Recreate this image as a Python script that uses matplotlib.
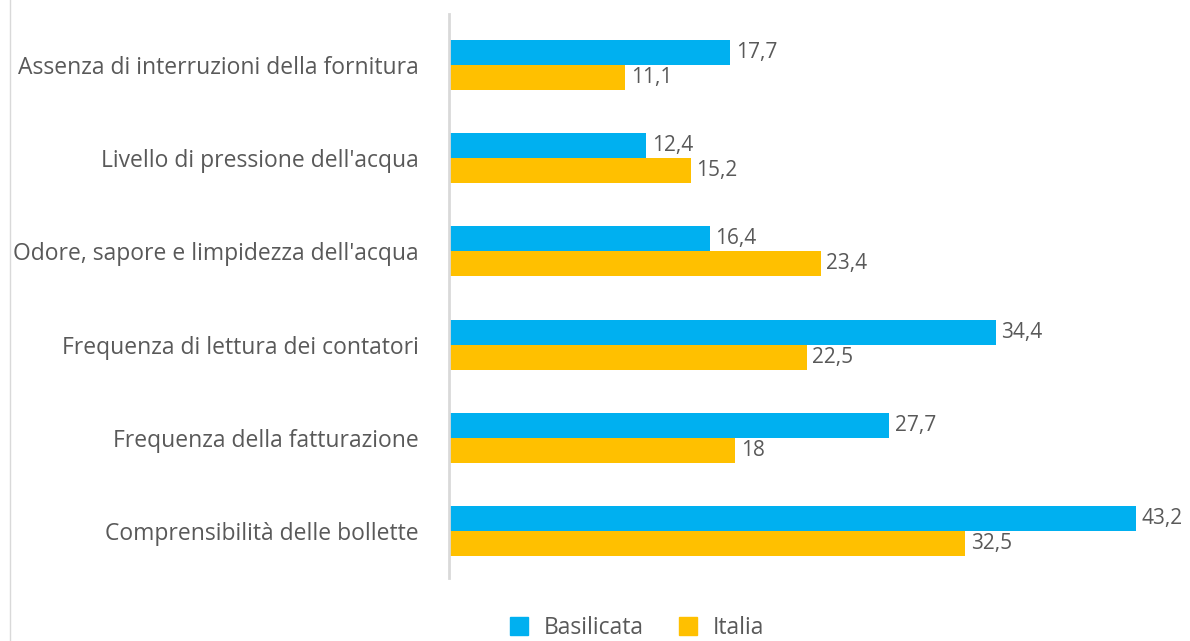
import matplotlib.pyplot as plt
import numpy as np
from matplotlib.lines import Line2D
from matplotlib.patches import Patch

categories = ['Assenza di interruzioni della fornitura',
              "Livello di pressione dell'acqua",
              "Odore, sapore e limpidezza dell'acqua",
              'Frequenza di lettura dei contatori',
              'Frequenza della fatturazione',
              'Comprensibilità delle bollette']
basilicata = [17.7, 12.4, 16.4, 34.4, 27.7, 43.2]
italia = [11.1, 15.2, 23.4, 22.5, 18.0, 32.5]
series_names = ['Basilicata', 'Italia']

blue = '#00B0F0'
orange = '#FFC000'
grey_text = '#595959'

plt.rcParams['font.family'] = ['Open Sans', 'DejaVu Sans']

fig = plt.figure(figsize=(11.9, 6.41), dpi=100)
ax = fig.add_axes([0.3773, 0.0983, 0.6143, 0.88])

y = np.arange(len(categories))
h = 0.268
b1 = ax.barh(y - h / 2, basilicata, height=h, color=blue)
b2 = ax.barh(y + h / 2, italia, height=h, color=orange)


def fmt(v):
    s = f'{v:.1f}'
    if s.endswith('.0'):
        s = s[:-2]
    return s.replace('.', ',')


for bars, vals in ((b1, basilicata), (b2, italia)):
    ax.bar_label(bars, labels=[fmt(v) for v in vals], padding=4,
                 fontsize=15, color=grey_text)

ax.set_xlim(0, 46)
ax.set_ylim(5.504, -0.547)
ax.set_yticks(y)
ax.set_yticklabels(categories, fontsize=16.5, color=grey_text)
ax.tick_params(axis='y', length=0, pad=22)
ax.set_xticks([])
for s in ['top', 'right', 'bottom']:
    ax.spines[s].set_visible(False)
ax.spines['left'].set_color('#d9d9d9')
ax.spines['left'].set_linewidth(2)

# faint frame line on the left
fig.add_artist(Line2D([10 / 1190, 10 / 1190], [0, 1], transform=fig.transFigure,
                      color='#d9d9d9', linewidth=1))

handles = [Patch(color=blue), Patch(color=orange)]
fig.legend(handles, series_names, loc='center', bbox_to_anchor=(637 / 1190, 1 - 628 / 641),
           ncol=2, frameon=False, fontsize=16.5, labelcolor=grey_text,
           handlelength=0.8, handleheight=0.8, columnspacing=1.5, handletextpad=0.7)

fig.savefig('out.png', dpi=100)
